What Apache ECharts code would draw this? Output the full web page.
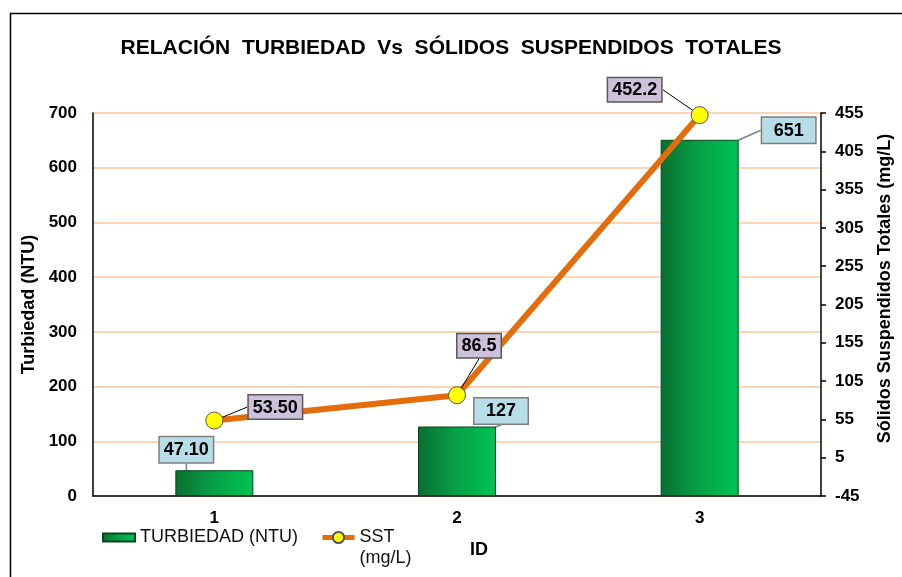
<!DOCTYPE html>
<html>
<head>
<meta charset="utf-8">
<script src="https://cdn.jsdelivr.net/npm/echarts@6/dist/echarts.min.js"></script>
<style>
  html, body { margin: 0; padding: 0; background: #fff; }
  #chart { width: 902px; height: 577px; }
</style>
</head>
<body>
<div id="chart"></div>
<script>
const ids = ['1', '2', '3']
const turbiedad = [47.1, 127, 651]
const sst = [53.5, 86.5, 452.2]
const turbiedadLabels = ['47.10', '127', '651']
const sstLabels = ['53.50', '86.5', '452.2']

// desplazamiento de las etiquetas (callouts)
const barShift = [[-28, -3], [44, 2], [89, 8]]
const lineShift = [[61, 12], [22, -24], [-65, 0]]

const chart = echarts.init(document.getElementById('chart'))

const font = 'Liberation Sans, Arial, sans-serif'

chart.setOption({
  animation: false,
  textStyle: { fontFamily: font },
  title: {
    text: 'RELACIÓN  TURBIEDAD  Vs  SÓLIDOS  SUSPENDIDOS  TOTALES',
    left: 'center',
    top: 33,
    textStyle: { fontSize: 21, fontWeight: 'bold', color: '#000', fontFamily: font }
  },
  graphic: [{
    type: 'rect',
    shape: { x: 10.5, y: 13.5, width: 950, height: 650 },
    style: { fill: 'none', stroke: '#000', lineWidth: 1.5 },
    silent: true
  }],
  legend: {
    left: 102,
    top: 506,
    padding: 0,
    itemGap: 22,
    itemWidth: 32,
    itemHeight: 14,
    lineStyle: { width: 5 },
    textStyle: { fontSize: 18, color: '#111', fontFamily: font, lineHeight: 21 },
    // linea vacia arriba para que el icono quede a la altura de "SST"
    formatter: name => name === 'SST (mg/L)' ? '\u00a0\nSST\n(mg/L)' : name,
    data: [
      { name: 'TURBIEDAD (NTU)', icon: 'path://M0,0h32v8h-32z' },
      { name: 'SST (mg/L)' }
    ]
  },
  grid: { left: 93, right: 79, top: 113, bottom: 81 },
  xAxis: {
    type: 'category',
    data: ids,
    name: 'ID',
    nameLocation: 'middle',
    nameGap: 45,
    nameTextStyle: { fontSize: 18, fontWeight: 'bold', color: '#000', padding: [0, 0, 0, 44] },
    axisLine: { lineStyle: { color: '#000', width: 1.5 } },
    axisTick: { show: false },
    axisLabel: { fontSize: 17, fontWeight: 'bold', color: '#000', margin: 14 }
  },
  yAxis: [{
    type: 'value',
    min: 0,
    max: 700,
    interval: 100,
    name: 'Turbiedad (NTU)',
    nameLocation: 'middle',
    nameRotate: 90,
    nameGap: 55,
    nameTextStyle: { fontSize: 18, fontWeight: 'bold', color: '#000' },
    axisLine: { show: true, lineStyle: { color: '#000', width: 1.5 } },
    axisTick: { show: false },
    axisLabel: { fontSize: 17, fontWeight: 'bold', color: '#000', margin: 16 },
    splitLine: { lineStyle: { color: '#fac79e', width: 1.5 } }
  }, {
    type: 'value',
    position: 'right',
    min: -45,
    max: 455,
    interval: 50,
    name: 'Sólidos Suspendidos Totales (mg/L)',
    nameLocation: 'middle',
    nameRotate: 90,
    nameGap: 55,
    nameTextStyle: { fontSize: 18, fontWeight: 'bold', color: '#000', padding: [0, 0, 0, 32] },
    axisLine: { show: true, lineStyle: { color: '#000', width: 1.5 } },
    axisTick: { show: true, length: 5, lineStyle: { color: '#000', width: 1.5 } },
    axisLabel: { fontSize: 17, fontWeight: 'bold', color: '#000', margin: 14 },
    splitLine: { show: false }
  }],
  series: [{
    name: 'TURBIEDAD (NTU)',
    type: 'bar',
    data: turbiedad,
    barWidth: 78,
    itemStyle: {
      color: new echarts.graphic.LinearGradient(0, 0, 1, 0, [
        { offset: 0, color: '#0a6f30' },
        { offset: 0.5, color: '#05a246' },
        { offset: 1, color: '#00c255' }
      ]),
      borderColor: '#08461f',
      borderWidth: 1
    },
    label: {
      show: true,
      position: 'top',
      distance: 5,
      formatter: p => turbiedadLabels[p.dataIndex],
      fontSize: 18,
      fontWeight: 'bold',
      color: '#000',
      backgroundColor: '#b7dee8',
      borderColor: '#7f7f7f',
      borderWidth: 1.5,
      padding: [4, 4, 3, 4],
      width: 45,
      align: 'center'
    },
    labelLine: { show: true, lineStyle: { color: '#7f7f7f', width: 1.5 } },
    labelLayout: p => ({ dx: barShift[p.dataIndex][0], dy: barShift[p.dataIndex][1] })
  }, {
    name: 'SST (mg/L)',
    type: 'line',
    yAxisIndex: 1,
    data: sst,
    symbol: 'circle',
    symbolSize: 17,
    lineStyle: { color: '#e46c0a', width: 6 },
    itemStyle: { color: '#ffff00', borderColor: '#555', borderWidth: 1 },
    z: 5,
    label: {
      show: true,
      position: 'top',
      distance: 5,
      formatter: p => sstLabels[p.dataIndex],
      fontSize: 18,
      fontWeight: 'bold',
      color: '#000',
      backgroundColor: '#ccc0da',
      borderColor: '#595959',
      borderWidth: 1.5,
      padding: [3, 4, 2, 4]
    },
    labelLine: { show: true, lineStyle: { color: '#000', width: 1 } },
    labelLayout: p => ({ dx: lineShift[p.dataIndex][0], dy: lineShift[p.dataIndex][1] })
  }]
})
</script>
</body>
</html>
